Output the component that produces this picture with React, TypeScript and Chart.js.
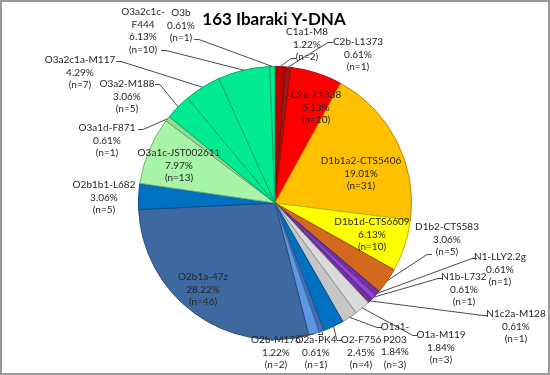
import React, { useEffect, useRef } from "react";
import { Chart, registerables } from "chart.js";

Chart.register(...registerables);

const TITLE = "163 Ibaraki Y-DNA";

const categories = [
  "C1a1-M8", "C2b-L1373", "C2e-Z1338", "D1b1a2-CTS5406", "D1b1d-CTS6609", "D1b2-CTS583",
  "N1-LLY2.2g", "N1b-L732", "N1c2a-M128", "O1a-M119", "O1a1-P203", "O2-F756",
  "O2a-PK4", "O2b-M176", "O2b1a-47z", "O2b1b1-L682", "O3a1c-JST002611", "O3a1d-F871",
  "O3a2-M188", "O3a2c1a-M117", "O3a2c1c-F444", "O3b",
];

const counts = [2, 1, 10, 31, 10, 5, 1, 1, 1, 3, 3, 4, 1, 2, 46, 5, 13, 1, 5, 7, 10, 1];

const percents = [
  "1.22%", "0.61%", "6.13%", "19.01%", "6.13%", "3.06%", "0.61%", "0.61%", "0.61%", "1.84%", "1.84%",
  "2.45%", "0.61%", "1.22%", "28.22%", "3.06%", "7.97%", "0.61%", "3.06%", "4.29%", "6.13%", "0.61%",
];

// how a category name wraps in its label
const nameBreaks: Record<string, string[]> = {
  "O3a2c1c-F444": ["O3a2c1c-", "F444"],
  "O1a1-P203": ["O1a1-", "P203"],
};

const colors = [
  "#C00000", "#9A1A1A", "#FF0000", "#FFC000", "#FFFF00", "#D4691E",
  "#7030A0", "#9046D0", "#7030A0", "#DADADA", "#C6C6C6", "#0070C0",
  "#3F6EB4", "#5C98E2", "#3D68A0", "#0070C0", "#A8F4A8", "#92DC92",
  "#00EA92", "#00EA92", "#00EA92", "#00EA92",
];

// layout: label centre x, first-line centre y
const labelPos: [number, number][] = [
  [307, 32], [358, 42], [316, 95], [361, 161], [372, 222], [447, 227],
  [500, 257], [464, 277], [516, 314], [441, 335], [395, 327], [361, 340],
  [316, 340], [276, 340], [203, 277], [104, 185], [179, 153], [107, 128],
  [127, 84], [80, 60], [143, 12], [181, 13],
];

// layout: where each leader line leaves its label (null = no leader)
const leaderStart: ([number, number] | null)[] = [
  [296, 58], [333, 42], null, null, null, [432, 254],
  [477, 258], [443, 278], [488, 315], [418, 335], [382, 327], [342, 340],
  [318, 334], [296, 335], null, null, null, [138, 129],
  [155, 84], [116, 61], [161, 50], [194, 39],
];

function darken(hex: string, f: number) {
  const n = parseInt(hex.slice(1), 16);
  const r = Math.round(((n >> 16) & 255) * f);
  const g = Math.round(((n >> 8) & 255) * f);
  const b = Math.round((n & 255) * f);
  return `rgb(${r},${g},${b})`;
}

const FONT = "Lato, 'Open Sans', sans-serif";
const LINE_H = 12.6;

const overlayPlugin = {
  id: "overlay",
  afterDraw(chart: any) {
    const ctx = chart.ctx as CanvasRenderingContext2D;
    const W = chart.width;
    const H = chart.height;
    ctx.save();
    // outer frame
    ctx.strokeStyle = "#9A9A9A";
    ctx.lineWidth = 2;
    ctx.strokeRect(1, 1, W - 2, H - 2);

    // title
    ctx.fillStyle = "#000";
    ctx.font = `bold 17px ${FONT}`;
    ctx.textAlign = "center";
    ctx.textBaseline = "middle";
    ctx.fillText(TITLE, 274, 20);

    const meta = chart.getDatasetMeta(0);
    // leader lines
    ctx.strokeStyle = "#4A4A4A";
    ctx.lineWidth = 1;
    meta.data.forEach((arc: any, i: number) => {
      const s = leaderStart[i];
      if (!s) return;
      const p = arc.getProps(["x", "y", "startAngle", "endAngle", "outerRadius"], true);
      const mid = (p.startAngle + p.endAngle) / 2;
      const ex = p.x + Math.cos(mid) * p.outerRadius;
      const ey = p.y + Math.sin(mid) * p.outerRadius;
      const dir = ex > s[0] ? 1 : -1;
      ctx.beginPath();
      ctx.moveTo(s[0], s[1] + 0.5);
      ctx.lineTo(s[0] + dir * 5, s[1] + 0.5);
      ctx.lineTo(ex, ey);
      ctx.stroke();
    });

    // labels
    ctx.font = `10px ${FONT}`;
    ctx.fillStyle = "#262626";
    categories.forEach((name, i) => {
      const lines = [...(nameBreaks[name] || [name]), percents[i], `(n=${counts[i]})`];
      const [cx, y0] = labelPos[i];
      lines.forEach((t, k) => ctx.fillText(t, cx, y0 + k * LINE_H));
    });
    ctx.restore();
  },
};

export default function App() {
  const ref = useRef<HTMLCanvasElement>(null);
  useEffect(() => {
    document.body.style.margin = "0";
    document.body.style.overflow = "hidden";
    const chart = new Chart(ref.current!, {
      type: "pie",
      data: {
        labels: categories,
        datasets: [
          {
            data: counts,
            backgroundColor: colors,
            borderColor: colors.map((c) => darken(c, 0.72)),
            borderWidth: 1,
          },
        ],
      },
      options: {
        responsive: false,
        animation: false,
        layout: { padding: { top: 66, bottom: 35, left: 0, right: 0 } },
        plugins: { legend: { display: false }, tooltip: { enabled: false }, title: { display: false } },
      },
      plugins: [overlayPlugin],
    });
    return () => chart.destroy();
  }, []);
  return (
    <div style={{ width: 550, height: 375, background: "#fff" }}>
      <canvas ref={ref} width={550} height={375} />
    </div>
  );
}
